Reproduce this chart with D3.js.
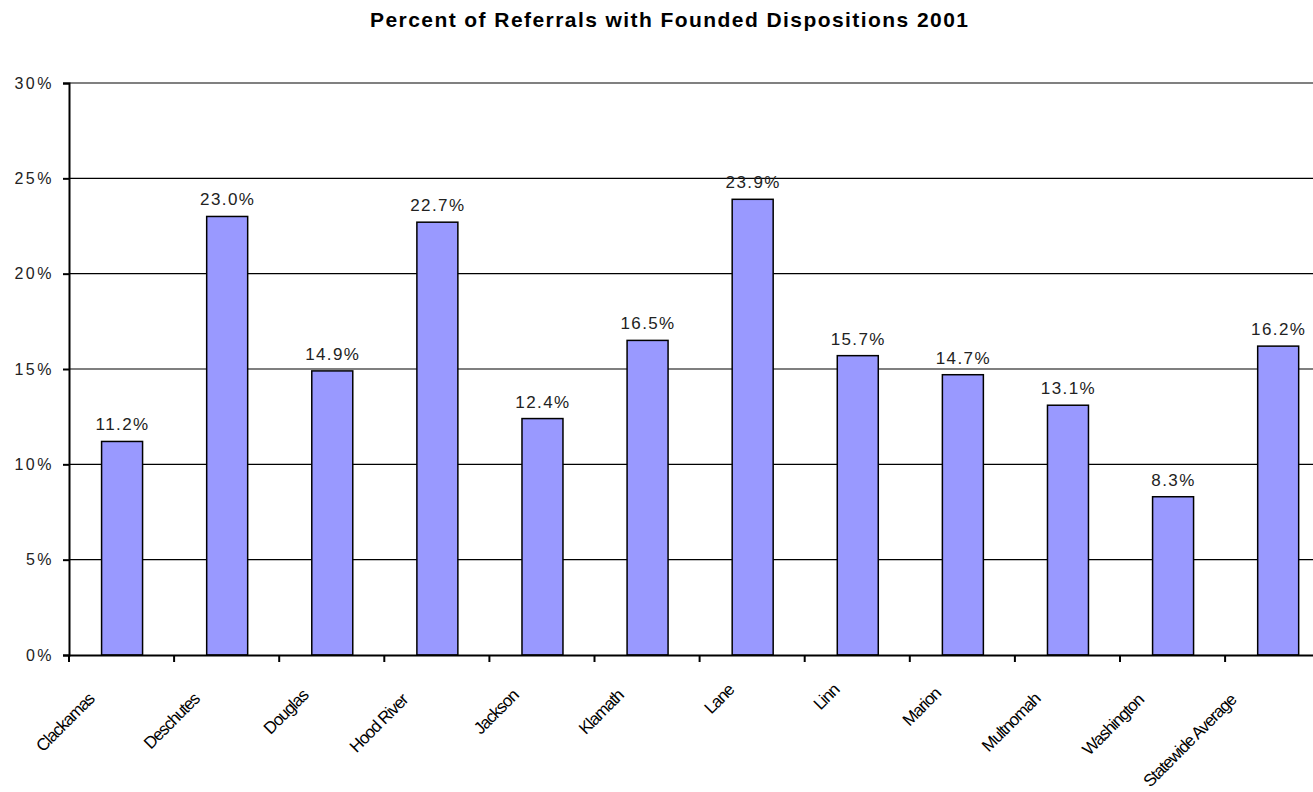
<!DOCTYPE html>
<html><head><meta charset="utf-8">
<script src="https://cdn.jsdelivr.net/npm/d3@7"></script>
<style>
body{margin:0;background:#fff;}
svg{display:block;font-family:"Liberation Sans",Arial,sans-serif;}
</style></head>
<body><svg id="c" width="1313" height="792"></svg>
<script>
const title = "Percent of Referrals with Founded Dispositions 2001";
const categories = ["Clackamas","Deschutes","Douglas","Hood River","Jackson","Klamath","Lane","Linn","Marion","Multnomah","Washington","Statewide Average"];
const values = [11.2, 23.0, 14.9, 22.7, 12.4, 16.5, 23.9, 15.7, 14.7, 13.1, 8.3, 16.2];
const valueLabels = ["11.2%","23.0%","14.9%","22.7%","12.4%","16.5%","23.9%","15.7%","14.7%","13.1%","8.3%","16.2%"];
const yTicks = [0, 5, 10, 15, 20, 25, 30];
const yTickLabels = ["0%","5%","10%","15%","20%","25%","30%"];

const svg = d3.select("#c");
const L = 69, R = 69 + 12*105.1, T = 83, B = 655;
const x = d3.scaleBand().domain(categories).range([L, R]).padding(0);
const y = d3.scaleLinear().domain([0, 30]).range([B, T]);

// title
svg.append("text").attr("x", 669).attr("y", 27).attr("text-anchor","middle")
  .attr("font-size", 21).attr("font-weight","bold")
  .attr("textLength", 598).attr("lengthAdjust","spacing")
  .text(title);

// gridlines
svg.append("g").selectAll("line").data(yTicks.filter(t => t > 0 && t < 30)).join("line")
  .attr("x1", L).attr("x2", R).attr("y1", d => y(d)).attr("y2", d => y(d))
  .attr("stroke", "#000").attr("stroke-width", 1.2);
// top border
svg.append("line").attr("x1", L).attr("x2", R).attr("y1", y(30)).attr("y2", y(30))
  .attr("stroke", "#808080").attr("stroke-width", 2);

// bars
const bw = x.bandwidth();
svg.append("g").selectAll("rect").data(values).join("rect")
  .attr("x", (d,i) => x(categories[i]) + bw*0.31)
  .attr("width", bw*0.39)
  .attr("y", d => y(d))
  .attr("height", d => y(0) - y(d))
  .attr("fill", "#9999FF").attr("stroke", "#000").attr("stroke-width", 1.5);

// value labels
svg.append("g").selectAll("text").data(values).join("text")
  .attr("x", (d,i) => x(categories[i]) + bw/2 + 1)
  .attr("y", d => y(d) - 11)
  .attr("text-anchor","middle").attr("font-size", 17).attr("letter-spacing","1.4px")
  .attr("fill","#222")
  .text((d,i) => valueLabels[i]);

// y axis
const yAxis = d3.axisLeft(y).tickValues(yTicks).tickFormat((d,i) => yTickLabels[i]).tickSize(6).tickPadding(10);
const gy = svg.append("g").attr("transform", `translate(${L},0)`).call(yAxis);
gy.select(".domain").attr("stroke","#000").attr("stroke-width",2);
gy.selectAll(".tick line").attr("stroke","#000").attr("stroke-width",2);
gy.selectAll(".tick text").attr("font-size",16).attr("font-family","Liberation Sans, Arial, sans-serif")
  .attr("letter-spacing","2.5px").attr("fill","#222").attr("dx", 1);

// x axis
const xAxis = d3.axisBottom(x).tickSize(0).tickFormat("");
const gx = svg.append("g").attr("transform", `translate(0,${B})`).call(xAxis);
gx.select(".domain").attr("stroke","#000").attr("stroke-width",2);
gx.selectAll(".tick").remove();
svg.append("g").selectAll("line").data(categories).join("line")
  .attr("x1", d => x(d)).attr("x2", d => x(d)).attr("y1", B).attr("y2", B + 7)
  .attr("stroke","#000").attr("stroke-width",2);

// category labels
svg.append("g").selectAll("text").data(categories).join("text")
  .attr("transform", d => {
    const n = d.length;
    const ex = x(d) + bw/2 - 10 - 1.8*n;
    const ey = B + 29 + 1.8*Math.min(n, 9.5);
    return `translate(${ex},${ey}) rotate(-45)`;
  })
  .attr("text-anchor","end").attr("font-size",17).attr("letter-spacing","-1.1px")
  .attr("fill","#000")
  .text(d => d);
</script></body></html>
